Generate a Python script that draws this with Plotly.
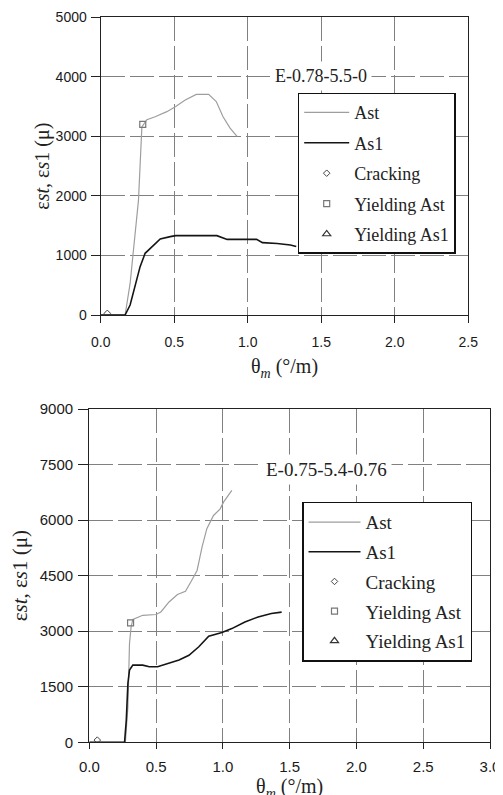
import plotly.graph_objects as go

# ---- Top chart: E-0.78-5.5-0 ----
top_ast_x = [0.0, 0.166, 0.20, 0.257, 0.28, 0.314, 0.37, 0.45, 0.51, 0.575, 0.65, 0.734, 0.786, 0.832, 0.88, 0.927]
top_ast_y = [0, 0, 530, 1930, 3160, 3280, 3330, 3415, 3500, 3610, 3705, 3705, 3585, 3330, 3140, 3000]
top_as1_x = [0.0, 0.166, 0.20, 0.234, 0.268, 0.302, 0.36, 0.405, 0.473, 0.51, 0.79, 0.86, 1.06, 1.10, 1.20, 1.29, 1.33]
top_as1_y = [0, 0, 168, 476, 812, 1036, 1176, 1277, 1316, 1333, 1333, 1270, 1270, 1215, 1200, 1176, 1150]
top_crack_x = [0.045]
top_crack_y = [28]
top_yield_ast_x = [0.286]
top_yield_ast_y = [3200]
top_yield_as1_x = [None]   # not reached inside the plotted range
top_yield_as1_y = [None]

# ---- Bottom chart: E-0.75-5.4-0.76 ----
bot_ast_x = [0.0, 0.264, 0.27, 0.289, 0.301, 0.313, 0.326, 0.40, 0.50, 0.536, 0.597, 0.66, 0.72, 0.76, 0.807,
             0.844, 0.88, 0.93, 0.98, 1.005, 1.03, 1.067]
bot_ast_y = [0, 0, 0, 960, 2670, 3117, 3315, 3430, 3450, 3520, 3790, 3990, 4080, 4330, 4640,
             5270, 5770, 6125, 6305, 6485, 6620, 6800]
bot_as1_x = [0.0, 0.264, 0.277, 0.289, 0.301, 0.326, 0.40, 0.449, 0.511, 0.597, 0.672, 0.746, 0.82, 0.894,
             0.993, 1.067, 1.165, 1.264, 1.363, 1.44]
bot_as1_y = [0, 0, 600, 1590, 1950, 2084, 2084, 2040, 2040, 2130, 2220, 2350, 2580, 2865,
             2965, 3070, 3250, 3385, 3476, 3515]
bot_crack_x = [0.06]
bot_crack_y = [60]
bot_yield_ast_x = [0.309]
bot_yield_ast_y = [3225]
bot_yield_as1_x = [None]
bot_yield_as1_y = [None]

top_label = "E-0.78-5.5-0"
bot_label = "E-0.75-5.4-0.76"
top_yticks = [0, 1000, 2000, 3000, 4000, 5000]
top_xticks = [0.0, 0.5, 1.0, 1.5, 2.0, 2.5]
bot_yticks = [0, 1500, 3000, 4500, 6000, 7500, 9000]
bot_xticks = [0.0, 0.5, 1.0, 1.5, 2.0, 2.5, 3.0]

W, H = 503, 795
OFF = 8  # page body margin
GRAY = "#9e9e9e"
BLACK = "#151515"
SERIF = "Liberation Serif, Times New Roman, serif"
SANS = "Liberation Sans, Arial, sans-serif"


def px(v):
    return (v - OFF) / W


def py(v):
    return 1 - (v - OFF) / H


fig = go.Figure()


def add_set(xa, ya, leg, ax, ay, as1x, as1y, cx, cy, yx, yy, y1x, y1y):
    fig.add_trace(go.Scatter(x=ax, y=ay, mode="lines", name="Ast", line=dict(color=GRAY, width=1.2),
                             xaxis=xa, yaxis=ya, legend=leg, legendgroup=leg + "a"))
    fig.add_trace(go.Scatter(x=as1x, y=as1y, mode="lines", name="As1", line=dict(color=BLACK, width=1.6),
                             xaxis=xa, yaxis=ya, legend=leg, legendgroup=leg + "b"))
    fig.add_trace(go.Scatter(x=cx, y=cy, mode="markers", name="Cracking",
                             marker=dict(symbol="diamond-open", size=5, color="#444", line=dict(width=1)),
                             xaxis=xa, yaxis=ya, legend=leg, legendgroup=leg + "c"))
    fig.add_trace(go.Scatter(x=yx, y=yy, mode="markers", name="Yielding Ast",
                             marker=dict(symbol="square-open", size=6, color="#777", line=dict(width=1.2)),
                             xaxis=xa, yaxis=ya, legend=leg, legendgroup=leg + "d"))
    fig.add_trace(go.Scatter(x=y1x, y=y1y, mode="markers", name="Yielding As1",
                             marker=dict(symbol="triangle-up-open", size=7, color="#333", line=dict(width=1.2)),
                             xaxis=xa, yaxis=ya, legend=leg, legendgroup=leg + "e"))


add_set("x", "y", "legend", top_ast_x, top_ast_y, top_as1_x, top_as1_y,
        top_crack_x, top_crack_y, top_yield_ast_x, top_yield_ast_y, top_yield_as1_x, top_yield_as1_y)
add_set("x2", "y2", "legend2", bot_ast_x, bot_ast_y, bot_as1_x, bot_as1_y,
        bot_crack_x, bot_crack_y, bot_yield_ast_x, bot_yield_ast_y, bot_yield_as1_x, bot_yield_as1_y)

ytitle = "ε<i>st</i>, ε<i>s</i>1 (μ)"
xtitle = "θ<sub><i>m</i></sub> (°/m)"


def axis_common(tickfont_size, ticklen, standoff):
    return dict(showline=True, mirror=True, linecolor="#222", linewidth=1.3, automargin=False,
                ticks="outside", ticklen=ticklen, tickcolor="#222", tickwidth=1.2,
                ticklabelstandoff=standoff,
                showgrid=True, gridcolor="#808080", gridwidth=1.4, griddash="24px,5px",
                zeroline=False, tickfont=dict(family=SANS, size=tickfont_size, color="#1a1a1a"))


top_xdom = [px(100.7), px(468.3)]
top_ydom = [py(315), py(17.3)]
bot_xdom = [px(89.3), px(490)]
bot_ydom = [py(742.3), py(409)]

fig.update_layout(
    width=W, height=H, margin=dict(l=0, r=0, t=0, b=0, autoexpand=False),
    paper_bgcolor="white", plot_bgcolor="white", showlegend=True,
    xaxis=dict(domain=top_xdom, anchor="y", range=[0, 2.5], tickvals=top_xticks,
               ticktext=[f"{v:.1f}" for v in top_xticks],
               title=dict(text=xtitle, font=dict(family=SERIF, size=20, color="#222"), standoff=10),
               **axis_common(14, 7, 7)),
    yaxis=dict(domain=top_ydom, anchor="x", range=[0, 5000], tickvals=top_yticks,
               title=dict(text=ytitle, font=dict(family=SERIF, size=20, color="#222"), standoff=0),
               **axis_common(14, 9, 1)),
    xaxis2=dict(domain=bot_xdom, anchor="y2", range=[0, 3.0], tickvals=bot_xticks,
                ticktext=[f"{v:.1f}" for v in bot_xticks],
                title=dict(text=xtitle, font=dict(family=SERIF, size=20, color="#222"), standoff=4),
                **axis_common(15, 6, 5)),
    yaxis2=dict(domain=bot_ydom, anchor="x2", range=[0, 9000], tickvals=bot_yticks,
                title=dict(text=ytitle, font=dict(family=SERIF, size=21, color="#222"), standoff=12),
                **axis_common(15, 10, 2)),
    legend=dict(x=px(297.7), y=py(92.7), xanchor="left", yanchor="top",
                bgcolor="white", bordercolor="#111", borderwidth=1.5,
                font=dict(family=SERIF, size=18, color="#222"),
                traceorder="grouped", tracegroupgap=4, itemwidth=45),
    legend2=dict(x=px(302), y=py(501.7), xanchor="left", yanchor="top",
                 bgcolor="white", bordercolor="#111", borderwidth=1.5,
                 font=dict(family=SERIF, size=19, color="#222"),
                 traceorder="grouped", tracegroupgap=2, itemwidth=52),
    annotations=[
        dict(text=top_label, xref="paper", yref="paper", x=px(372), y=py(61),
             showarrow=False, bgcolor="white", borderpad=4,
             font=dict(family=SERIF, size=18, color="#222")),
        dict(text=bot_label, xref="paper", yref="paper", x=px(392), y=py(469),
             showarrow=False, bgcolor="white", borderpad=4,
             font=dict(family=SERIF, size=19, color="#222")),
    ],
)

fig.write_html("out.html")
